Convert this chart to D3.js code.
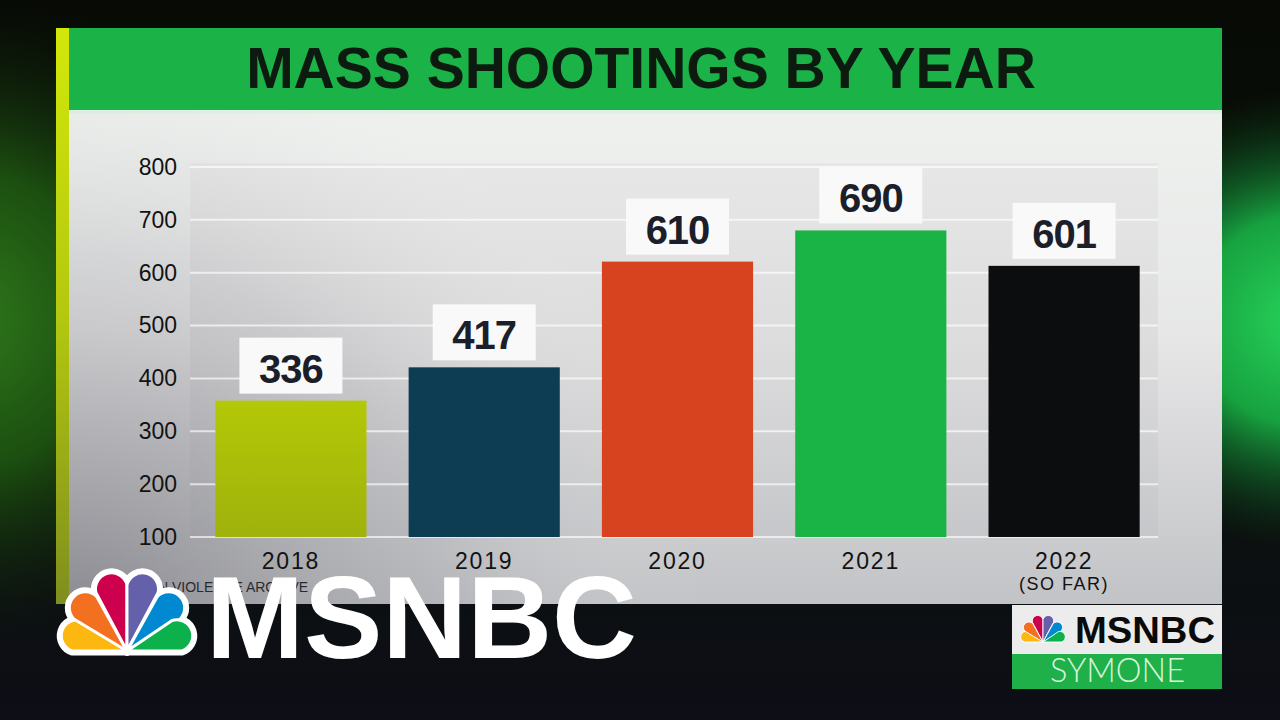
<!DOCTYPE html>
<html>
<head>
<meta charset="utf-8">
<script src="https://cdn.jsdelivr.net/npm/d3@7"></script>
<style>
  html, body { margin: 0; padding: 0; background: #0c0d12; }
  svg { display: block; }
</style>
</head>
<body>
<svg id="chart" width="1280" height="720"></svg>
<script>
// ---- data ----
const years = ["2018", "2019", "2020", "2021", "2022"];
const barValues = [358, 421, 621, 680, 613];      // bar heights as drawn in the graphic
const labelValues = ["336", "417", "610", "690", "601"]; // printed value labels
const barColors = ["#a9bf09", "#0c3d52", "#d7421f", "#1ab346", "#0b0d0e"];
const yTicks = [100, 200, 300, 400, 500, 600, 700, 800];
const title = "MASS SHOOTINGS BY YEAR";
const subLabel = { "2022": "(SO FAR)" };
const sourceText = "GUN VIOLENCE ARCHIVE";
const peacockColors = ["#fcb711", "#f37021", "#cc004c", "#6460aa", "#0089d0", "#0db14b"];

const svg = d3.select("#chart");
const defs = svg.append("defs");

function linGrad(id, x1, y1, x2, y2, stops) {
  const g = defs.append("linearGradient").attr("id", id)
    .attr("x1", x1).attr("y1", y1).attr("x2", x2).attr("y2", y2);
  stops.forEach(s => g.append("stop").attr("offset", s[0]).attr("stop-color", s[1]).attr("stop-opacity", s[2] === undefined ? 1 : s[2]));
}
function radGrad(id, cx, cy, r, stops) {
  const g = defs.append("radialGradient").attr("id", id)
    .attr("gradientUnits", "userSpaceOnUse")
    .attr("cx", cx).attr("cy", cy).attr("r", r);
  stops.forEach(s => g.append("stop").attr("offset", s[0]).attr("stop-color", s[1]).attr("stop-opacity", s[2] === undefined ? 1 : s[2]));
}

// background
linGrad("bgV", 0, 0, 0, 1, [[0, "#070a05"], [0.5, "#0b120a"], [1, "#0d0e16"]]);
radGrad("glowL", -40, 320, 330, [[0, "#2f7a1c"], [0.45, "#1c4f10"], [1, "#0d1a0a", 0]]);
radGrad("glowR", 1300, 320, 230, [[0, "#27d35a"], [0.45, "#17a240"], [1, "#0a3a18", 0]]);
svg.append("rect").attr("width", 1280).attr("height", 720).attr("fill", "url(#bgV)");
svg.append("rect").attr("width", 1280).attr("height", 720).attr("fill", "url(#glowL)");
svg.append("rect").attr("width", 1280).attr("height", 720).attr("fill", "url(#glowR)");

// panel
const panel = { x0: 56, x1: 1222, top: 28, headerBottom: 110, bottom: 604 };
linGrad("stripe", 0, 0, 0, 1, [[0, "#d2e80a"], [0.5, "#b3c80f"], [1, "#7f8e1e"]]);
svg.append("rect").attr("x", panel.x0).attr("y", panel.top).attr("width", 13).attr("height", panel.bottom - panel.top).attr("fill", "url(#stripe)");
svg.append("rect").attr("x", panel.x0 + 13).attr("y", panel.top).attr("width", panel.x1 - panel.x0 - 13).attr("height", panel.headerBottom - panel.top).attr("fill", "#1bb247");

linGrad("bodyV", 0, 0, 0, 1, [[0, "#eef1ee"], [0.45, "#e7e7e8"], [1, "#c2c3c6"]]);
radGrad("bodyShade", 60, 640, 650, [[0, "#55555e", 0.55], [0.6, "#7a7a82", 0.18], [1, "#ffffff", 0]]);
svg.append("rect").attr("x", panel.x0 + 13).attr("y", panel.headerBottom).attr("width", panel.x1 - panel.x0 - 13).attr("height", panel.bottom - panel.headerBottom).attr("fill", "url(#bodyV)");
svg.append("rect").attr("x", panel.x0 + 13).attr("y", panel.headerBottom).attr("width", panel.x1 - panel.x0 - 13).attr("height", 4).attr("fill", "#e0f1e4");

// title
svg.append("text").attr("x", 641).attr("y", 88).attr("text-anchor", "middle")
  .attr("font-family", "Liberation Sans, Arial, sans-serif").attr("font-weight", "bold")
  .attr("font-size", 57).attr("fill", "#0c1a10").text(title);

// scales
const plot = { left: 190, right: 1158, top: 163, bottom: 537 };
const x = d3.scaleBand().domain(years).range([196, 1159]).paddingInner(0.218).paddingOuter(0.1);
const y = d3.scaleLinear().domain([100, 800]).range([537, 167]);

// plot background
linGrad("plotV", 0, 0, 0, 1, [[0, "#e7e7e7"], [0.5, "#dcdcdd"], [1, "#c6c7ca"]]);
svg.append("rect").attr("x", plot.left).attr("y", plot.top).attr("width", plot.right - plot.left).attr("height", plot.bottom - plot.top).attr("fill", "url(#plotV)");

// shading overlay over body (darker lower-left)
svg.append("rect").attr("x", panel.x0 + 13).attr("y", panel.headerBottom).attr("width", panel.x1 - panel.x0 - 13).attr("height", panel.bottom - panel.headerBottom).attr("fill", "url(#bodyShade)");

// gridlines
svg.append("g").selectAll("line").data(yTicks).join("line")
  .attr("x1", plot.left).attr("x2", plot.right)
  .attr("y1", d => y(d)).attr("y2", d => y(d))
  .attr("stroke", "#ffffff").attr("stroke-opacity", 0.65).attr("stroke-width", 2);

// y axis
const yAxis = svg.append("g").attr("transform", `translate(${plot.left},0)`)
  .call(d3.axisLeft(y).tickValues(yTicks).tickSize(0).tickPadding(13).tickFormat(d3.format("d")));
yAxis.select(".domain").remove();
yAxis.selectAll("text").attr("font-family", "Liberation Sans, Arial, sans-serif")
  .attr("font-size", 23).attr("fill", "#121212");

// bars
linGrad("bar2018", 0, 0, 0, 1, [[0, "#b3c806"], [1, "#9fb20d"]]);
const barFill = (d, i) => i === 0 ? "url(#bar2018)" : barColors[i];
svg.append("g").selectAll("rect").data(years).join("rect")
  .attr("x", d => x(d)).attr("width", x.bandwidth())
  .attr("y", (d, i) => y(barValues[i]))
  .attr("height", (d, i) => y(100) - y(barValues[i]))
  .attr("fill", barFill);

// x axis
const xAxis = svg.append("g").attr("transform", `translate(0,${plot.bottom})`)
  .call(d3.axisBottom(x).tickSize(0).tickPadding(0));
xAxis.select(".domain").remove();
xAxis.selectAll("text").attr("y", 32).attr("dy", 0)
  .attr("font-family", "Liberation Sans, Arial, sans-serif")
  .attr("font-size", 23).attr("letter-spacing", 1.8).attr("fill", "#121212");
xAxis.selectAll(".tick").filter(d => subLabel[d]).append("text")
  .attr("y", 53).attr("text-anchor", "middle")
  .attr("font-family", "Liberation Sans, Arial, sans-serif")
  .attr("font-size", 18).attr("letter-spacing", 1.5).attr("fill", "#121212")
  .text(d => subLabel[d]);

// value label boxes
const boxW = 103, boxH = 56, gap = 7;
const labels = svg.append("g").selectAll("g").data(years).join("g")
  .attr("transform", (d, i) => `translate(${x(d) + x.bandwidth() / 2},${y(barValues[i]) - gap})`);
labels.append("rect").attr("x", -boxW / 2).attr("y", -boxH).attr("width", boxW).attr("height", boxH).attr("fill", "#f9f9f9");
labels.append("text").attr("y", -11).attr("text-anchor", "middle")
  .attr("font-family", "Liberation Sans, Arial, sans-serif").attr("font-weight", "bold")
  .attr("font-size", 40).attr("letter-spacing", -1).attr("fill", "#1b1f2a")
  .text((d, i) => labelValues[i]);

// source line (mostly hidden behind the network logo)
svg.append("text").attr("x", 137).attr("y", 592)
  .attr("font-family", "Liberation Sans, Arial, sans-serif").attr("font-size", 14)
  .attr("fill", "#2a2a30").text(sourceText);

// peacock
function peacock(cx, baseY, s, outline) {
  const g = svg.append("g").attr("transform", `translate(${cx},${baseY}) scale(${s})`);
  const angles = [-73, -44, -14, 14, 44, 73];
  const lens = [68, 76, 80, 80, 76, 68];
  const r = 16;
  const path = (L) => `M0,0 L${-r},${-(L - r)} A${r},${r} 0 0 1 ${r},${-(L - r)} Z`;
  if (outline) {
    g.selectAll("path.o").data(angles).join("path").attr("class", "o")
      .attr("d", (a, i) => path(lens[i])).attr("transform", a => `rotate(${a})`)
      .attr("fill", "#ffffff").attr("stroke", "#ffffff").attr("stroke-width", 9).attr("stroke-linejoin", "round");
  }
  g.selectAll("path.f").data(angles).join("path").attr("class", "f")
    .attr("d", (a, i) => path(lens[i])).attr("transform", a => `rotate(${a})`)
    .attr("fill", (a, i) => peacockColors[i]).attr("stroke", "#ffffff").attr("stroke-width", outline ? 3 : 2.5)
    .attr("stroke-linejoin", "round");
  return g;
}
peacock(127, 651, 1, true);

// big MSNBC watermark
svg.append("text").attr("x", 206).attr("y", 658)
  .attr("font-family", "Liberation Sans, Arial, sans-serif").attr("font-weight", "bold")
  .attr("font-size", 116).attr("fill", "#ffffff")
  .attr("textLength", 431).attr("lengthAdjust", "spacingAndGlyphs").text("MSNBC");

// bottom-right show bug
svg.append("rect").attr("x", 1012).attr("y", 605).attr("width", 210).attr("height", 49).attr("fill", "#ececec");
svg.append("rect").attr("x", 1012).attr("y", 654).attr("width", 210).attr("height", 35).attr("fill", "#1fb04a");
peacock(1043, 642, 0.34, false);
svg.append("text").attr("x", 1075).attr("y", 643)
  .attr("font-family", "Liberation Sans, Arial, sans-serif").attr("font-weight", "bold")
  .attr("font-size", 37).attr("fill", "#0a0a0a")
  .attr("textLength", 140).attr("lengthAdjust", "spacingAndGlyphs").text("MSNBC");
svg.append("text").attr("x", 1050).attr("y", 682)
  .attr("font-family", "Lato, 'Open Sans', sans-serif").attr("font-weight", 300)
  .attr("font-size", 33).attr("fill", "#d6f6dc")
  .attr("textLength", 135).attr("lengthAdjust", "spacingAndGlyphs").text("SYMONE");
</script>
</body>
</html>
